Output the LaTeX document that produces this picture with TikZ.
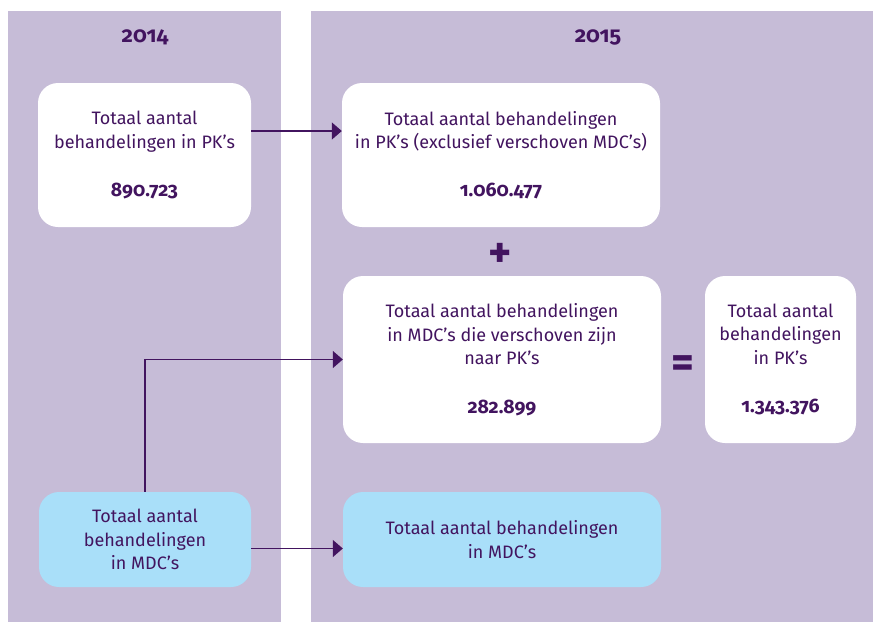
\documentclass[tikz,border=0pt]{standalone}
\usepackage{fontspec}
\setmainfont{Fira Sans}[Numbers=OldStyle]
\usetikzlibrary{arrows.meta}
\definecolor{panelviolet}{HTML}{C6BCD7}
\definecolor{darkviolet}{HTML}{42145F}
\definecolor{lightblue}{HTML}{A9DFF9}
\newcommand{\amount}[1]{{\fontsize{19.5}{23.5}\selectfont\bfseries #1}}
\begin{document}
\begin{tikzpicture}[x=1pt, y=-1pt,
    box/.style={fill=white, rounded corners=20pt, align=center, inner sep=0pt,
        text=darkviolet, font=\fontsize{18}{23.5}\selectfont},
    mdcbox/.style={box, fill=lightblue},
    year/.style={text=darkviolet, font=\fontsize{22}{24}\selectfont\bfseries},
    sign/.style={text=darkviolet, font=\fontsize{44}{44}\selectfont\bfseries},
    link/.style={darkviolet, line width=1.3pt, -{Triangle[length=10pt, width=17pt]}}]
    \useasboundingbox (0,0) rectangle (875,625);

    % Panels for both years
    \foreach \xa/\xb in {8/281, 311/873}
        \fill[panelviolet] (\xa,11) rectangle (\xb,622);
    \node[year] (y14) at (145,37) {2014};
    \node[year] (y15) at (598,37) {2015};

    % Boxes 2014
    \node[box, minimum width=213pt, minimum height=144pt] (pk14) at (144.5,155)
        {Totaal aantal\\behandelingen in PK’s\\[24.5pt]\amount{890.723}};
    \node[mdcbox, minimum width=212pt, minimum height=95pt] (mdc14) at (145,539.5)
        {Totaal aantal\\behandelingen\\in MDC’s};

    % Boxes 2015
    \node[box, minimum width=318pt, minimum height=144pt] (pk15) at (501,155)
        {Totaal aantal behandelingen\\in PK’s (exclusief verschoven MDC’s)\\[24.5pt]\amount{1.060.477}};
    \node[box, minimum width=318pt, minimum height=167pt] (shift) at (502,359.5)
        {Totaal aantal behandelingen\\in MDC’s die verschoven zijn\\naar PK’s\\[25pt]\amount{282.899}};
    \node[box, minimum width=151pt, minimum height=167pt] (tot) at (780.5,359.5)
        {Totaal aantal\\behandelingen\\in PK’s\\[25pt]\amount{1.343.376}};
    \node[mdcbox, minimum width=318pt, minimum height=95pt] (mdc15) at (502,539.5)
        {Totaal aantal behandelingen\\in MDC’s};

    % Signs
    \node[sign] (plus) at (500,255) {+};
    \node[sign] (eq) at (683,367) {=};

    % Arrows
    \draw[link] ([yshift=24pt]pk14.east) -- ([yshift=24pt]pk15.west);
    \draw[link] (mdc14.north) |- (shift.west);
    \draw[link] ([yshift=-9pt]mdc14.east) -- ([yshift=-9pt]mdc15.west);
\end{tikzpicture}
\end{document}
